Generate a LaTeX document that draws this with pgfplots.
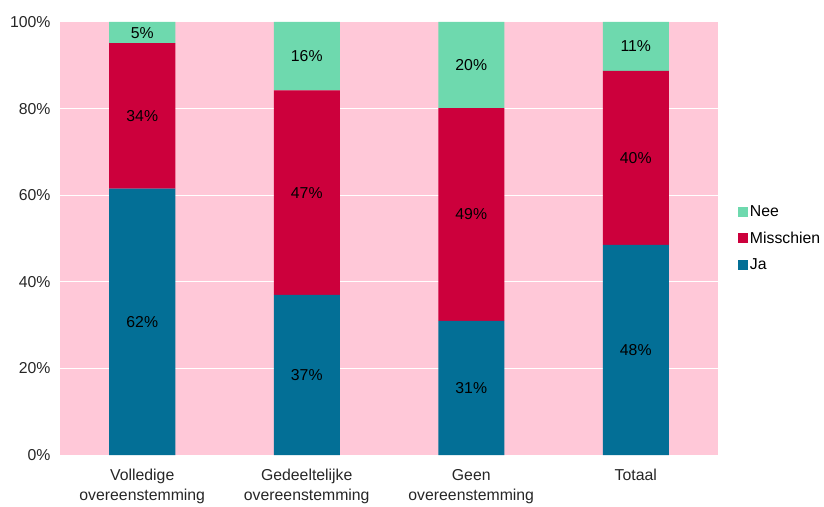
\documentclass[border=0pt]{standalone}
\usepackage{pgfplots}
\pgfplotsset{compat=1.18}
\usepackage{fontspec}
\setmainfont{Liberation Sans}
\definecolor{bg}{RGB}{255,200,216}
\definecolor{ja}{RGB}{3,111,150}
\definecolor{mis}{RGB}{204,0,60}
\definecolor{nee}{RGB}{110,217,174}
\pgfplotsset{
  sq/.style={legend image code/.code={\fill[##1] (0pt,-5pt) rectangle (10pt,5pt);}},
  lab/.style={only marks, mark=none, nodes near coords, point meta=explicit symbolic,
    every node near coord/.style={anchor=center, font=\fontsize{15.8}{18}\selectfont, text=black}},
}
\begin{document}
\begin{tikzpicture}
\begin{axis}[
  scale only axis, width=658pt, height=433pt,
  at={(0pt,0pt)}, anchor=south west,
  ybar stacked, bar width=66pt,
  xmin=-0.5, xmax=3.5, ymin=0, ymax=100,
  xtick={0,1,2,3},
  xticklabels={{Volledige\\overeenstemming},{Gedeeltelijke\\overeenstemming},{Geen\\overeenstemming},{Totaal}},
  xticklabel style={align=center, yshift=-11pt, font=\fontsize{15.8}{19.5}\selectfont, text=black!85},
  ytick={0,20,40,60,80,100},
  yticklabel={\pgfmathprintnumber{\tick}\%},
  yticklabel style={xshift=-6pt, font=\fontsize{15.8}{18}\selectfont, text=black!85},
  /pgf/number format/assume math mode=true,
  ymajorgrids, grid style={white, line width=1pt},
  axis line style={draw=none}, major tick length=0pt,
  axis background/.style={fill=bg},
  legend style={at={(1.03,0.5)}, anchor=west, draw=none, fill=none,
    font=\fontsize{15.8}{18}\selectfont, inner sep=0pt, row sep=10pt,
    /tikz/every even column/.append style={column sep=2pt}},
  legend cell align=left,
  reverse legend,
]
\addplot[fill=ja, draw=none, sq] coordinates {(0,61.5) (1,37) (2,31) (3,48.5)};
\addplot[fill=mis, draw=none, sq] coordinates {(0,33.6) (1,47.2) (2,49.1) (3,40.2)};
\addplot[fill=nee, draw=none, sq] coordinates {(0,4.9) (1,15.8) (2,19.9) (3,11.3)};
\legend{Ja,Misschien,Nee}
\end{axis}
\begin{axis}[
  scale only axis, width=658pt, height=433pt,
  at={(0pt,0pt)}, anchor=south west,
  xmin=-0.5, xmax=3.5, ymin=0, ymax=100,
  hide axis, clip=false,
]
\addplot[lab] coordinates {(0,30.75) [62\%] (1,18.5) [37\%] (2,15.5) [31\%] (3,24.25) [48\%]};
\addplot[lab] coordinates {(0,78.3) [34\%] (1,60.6) [47\%] (2,55.55) [49\%] (3,68.6) [40\%]};
\addplot[lab] coordinates {(0,97.55) [5\%] (1,92.1) [16\%] (2,90.05) [20\%] (3,94.35) [11\%]};
\end{axis}
\pgfresetboundingbox
\path[use as bounding box] (-60pt,-51pt) rectangle (764pt,455pt);
\end{tikzpicture}
\end{document}
